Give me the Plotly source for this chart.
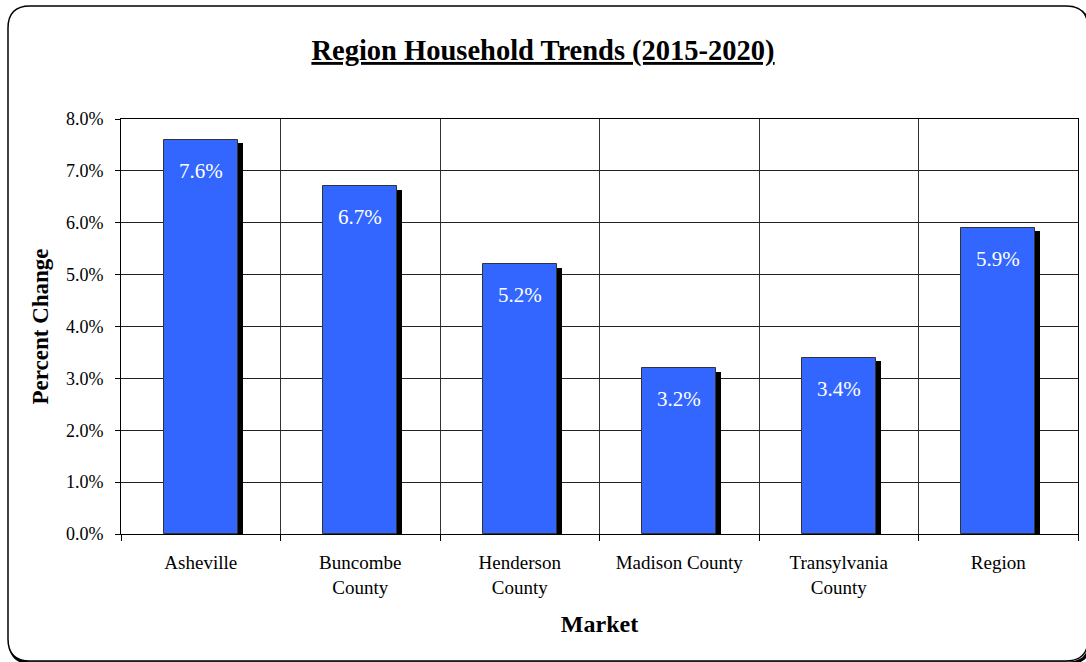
import plotly.graph_objects as go

categories = ["Asheville", "Buncombe<br>County", "Henderson<br>County", "Madison County",
              "Transylvania<br>County", "Region"]
values = [0.076, 0.067, 0.052, 0.032, 0.034, 0.059]
y_ticks = [0.0, 0.01, 0.02, 0.03, 0.04, 0.05, 0.06, 0.07, 0.08]

W, H = 1086, 662
L, R, T, B = 121, 8, 119, 128
PW, PH = W - L - R, H - T - B
YMAX = 0.08

FONT = "Times New Roman, Liberation Serif, serif"
BAR_W = 0.465
SHADOW_DX = 5 / (PW / len(categories))
SHADOW_DY = 3.5 / PH * YMAX

xs = list(range(len(categories)))

fig = go.Figure()
fig.add_trace(go.Bar(
    x=[x + SHADOW_DX for x in xs], y=[v - SHADOW_DY for v in values],
    width=BAR_W, marker=dict(color="black", line=dict(width=0)),
    hoverinfo="skip", showlegend=False))
fig.add_trace(go.Bar(
    x=xs, y=values, width=BAR_W,
    marker=dict(color="#3366FF", line=dict(color="#333333", width=1)),
    showlegend=False))

for x, v in zip(xs, values):
    fig.add_annotation(x=x, y=v, text=f"{v*100:.1f}%", showarrow=False,
                       yshift=-31, yanchor="middle",
                       font=dict(family=FONT, size=21, color="white"))


def px2paper(px, py):
    return (px - L) / PW, (H - B - py) / PH


def rounded_rect(x0, y0, x1, y1, r):
    pts = [("M", [(x0 + r, y0)]), ("L", [(x1 - r, y0)]), ("Q", [(x1, y0), (x1, y0 + r)]),
           ("L", [(x1, y1 - r)]), ("Q", [(x1, y1), (x1 - r, y1)]), ("L", [(x0 + r, y1)]),
           ("Q", [(x0, y1), (x0, y1 - r)]), ("L", [(x0, y0 + r)]), ("Q", [(x0, y0), (x0 + r, y0)])]
    s = ""
    for cmd, ps in pts:
        s += cmd + " " + " ".join(f"{a:.5f},{b:.5f}" for a, b in (px2paper(*p) for p in ps)) + " "
    return s + "Z"


fig.add_shape(type="path", xref="paper", yref="paper",
              path=rounded_rect(10, 9, 1090, 663, 22),
              line=dict(color="black", width=3), layer="below")
fig.add_shape(type="path", xref="paper", yref="paper",
              path=rounded_rect(8, 6, 1088, 661, 22),
              line=dict(color="black", width=1.5), fillcolor="white", layer="below")

fig.update_layout(
    width=W, height=H,
    margin=dict(l=L, r=R, t=T, b=B, autoexpand=False),
    paper_bgcolor="white", plot_bgcolor="#C0C0C0",
    barmode="overlay", bargap=0,
    font=dict(family=FONT, size=18, color="black"),
    title=dict(text="<b><u>Region Household Trends (2015-2020)</u></b>",
               x=0.5, xref="container", xanchor="center",
               y=1 - 50 / H, yref="container", yanchor="middle",
               font=dict(family=FONT, size=28.5, color="black")),
    xaxis=dict(range=[-0.5, len(categories) - 0.5], tickmode="array",
               tickvals=xs, ticktext=categories, ticks="", showgrid=False,
               tickfont=dict(family=FONT, size=19),
               zeroline=False, showline=True, linecolor="black", linewidth=1, mirror=True,
               ticklabelstandoff=11,
               minor=dict(tickmode="array", tickvals=[x - 0.5 for x in xs] + [len(xs) - 0.5],
                          ticks="outside", ticklen=6, tickcolor="black",
                          showgrid=True, gridcolor="#333333", gridwidth=1),
               title=dict(text="<b>Market</b>", standoff=18,
                          font=dict(family=FONT, size=24))),
    yaxis=dict(range=[0, YMAX], tickmode="array", tickvals=y_ticks, tickformat=".1%",
               ticks="outside", ticklen=5, tickcolor="black",
               tickfont=dict(family=FONT, size=18), ticklabelstandoff=8,
               showgrid=True, gridcolor="#222222", gridwidth=1, zeroline=False,
               showline=True, linecolor="black", linewidth=1, mirror=True,
               title=dict(text="<b>Percent Change</b>", standoff=10,
                          font=dict(family=FONT, size=23))),
)

fig.write_html("out.html")
